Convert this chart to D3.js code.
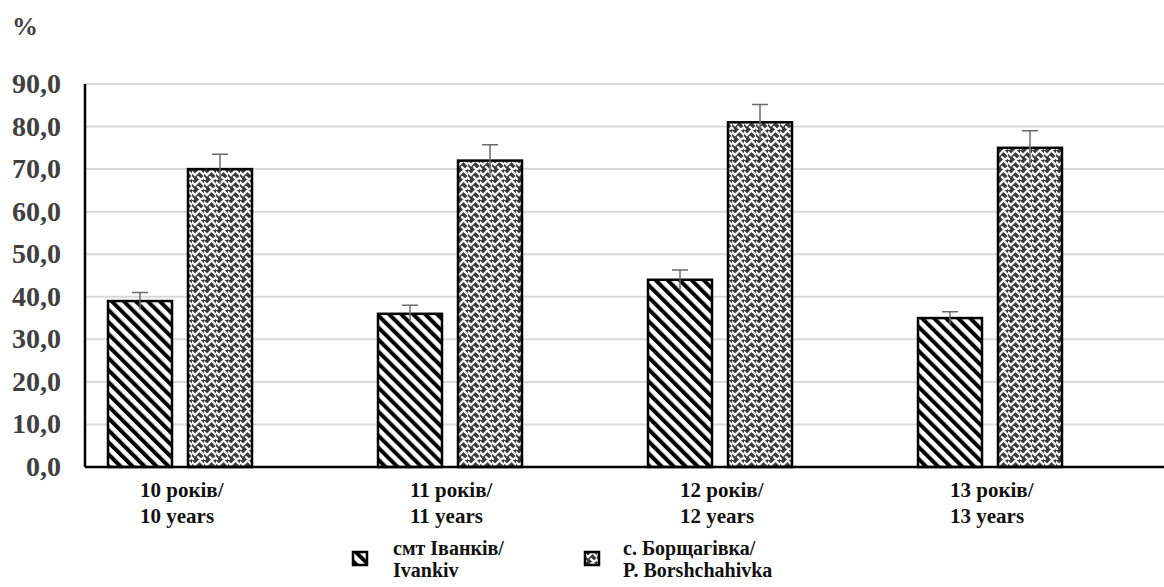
<!DOCTYPE html>
<html>
<head>
<meta charset="utf-8">
<style>
  body, html { margin: 0; padding: 0; background: #fff; }
</style>
</head>
<body>
<svg id="svg" width="1164" height="587"></svg>
<script src="https://d3js.org/d3.v7.min.js"></script>
<script>
// Data
const categories = ['10 років/|10 years', '11 років/|11 years', '12 років/|12 years', '13 років/|13 years']
const seriesNames = ['смт Іванків/|Ivankiv', 'с. Борщагівка/|P. Borshchahivka']
const ivankiv = [39, 36, 44, 35]
const borshchahivka = [70, 72, 81, 75]
const ivankivErr = [2.0, 2.0, 2.3, 1.5]
const borshchahivkaErr = [3.5, 3.7, 4.2, 4.0]
const yTicks = [0, 10, 20, 30, 40, 50, 60, 70, 80, 90]

const FONT = '"Liberation Serif"'
const svg = d3.select('#svg')
const width = 1164

// Patterns
const defs = svg.append('defs')
const hatch = defs.append('pattern')
  .attr('id', 'hatch')
  .attr('patternUnits', 'userSpaceOnUse')
  .attr('width', 8.5).attr('height', 8.5)
  .attr('patternTransform', 'rotate(-45)')
hatch.append('rect').attr('width', 8.5).attr('height', 8.5).attr('fill', '#fff')
hatch.append('rect').attr('width', 4).attr('height', 8.5).attr('fill', '#000')

const weave = defs.append('pattern')
  .attr('id', 'weave')
  .attr('patternUnits', 'userSpaceOnUse')
  .attr('width', 12).attr('height', 10)
weave.append('rect').attr('width', 12).attr('height', 10).attr('fill', '#3a3a3a')
weave.append('path')
  .attr('d', 'M0,2 L3,5 L6,2 M6,7 L9,10 L12,7 M-1,7 L1,9 M9,2 L12,5 M6,2 L9,-1')
  .attr('stroke', '#f4f4f4').attr('stroke-width', 2.4).attr('fill', 'none')
  .attr('stroke-linecap', 'round')

const x = d3.scaleBand()
  .domain(categories)
  .range([45, 1125])
const y = d3.scaleLinear()
  .domain([0, 90])
  .range([467, 84])
const axisX = 85

// Gridlines
svg.append('g')
  .selectAll('line')
  .data(yTicks.slice(1))
  .join('line')
  .attr('x1', axisX).attr('x2', width)
  .attr('y1', d => y(d)).attr('y2', d => y(d))
  .attr('stroke', '#d9d9d9').attr('stroke-width', 2)

// Y axis labels
svg.append('g')
  .selectAll('text')
  .data(yTicks)
  .join('text')
  .attr('x', 61).attr('y', d => y(d) + 9)
  .attr('text-anchor', 'end')
  .attr('font-size', 28)
  .attr('font-weight', 'bold')
  .style('font-family', FONT)
  .attr('fill', '#404040')
  .text(d => d.toFixed(1).replace('.', ','))

svg.append('text')
  .attr('x', 12).attr('y', 35)
  .attr('font-size', 26).attr('font-weight', 'bold')
  .style('font-family', FONT)
  .attr('fill', '#404040')
  .text('%')

// Bars
const barW = 64
const offsets = [-72, 8]
const series = [
  { values: ivankiv, err: ivankivErr, fill: 'url(#hatch)' },
  { values: borshchahivka, err: borshchahivkaErr, fill: 'url(#weave)' }
]
series.forEach((s, si) => {
  const g = svg.append('g')
  const cx = (d, i) => x(categories[i]) + x.bandwidth() / 2 + offsets[si]
  g.selectAll('rect')
    .data(s.values)
    .join('rect')
    .attr('x', cx)
    .attr('y', d => y(d))
    .attr('width', barW)
    .attr('height', d => y(0) - y(d))
    .attr('fill', s.fill)
    .attr('stroke', '#000').attr('stroke-width', 2.5)
  // error bars
  g.selectAll('.err')
    .data(s.values)
    .join('path')
    .attr('class', 'err')
    .attr('d', (d, i) => {
      const mx = cx(d, i) + barW / 2
      const top = y(d + s.err[i])
      const bot = y(d - s.err[i])
      return `M${mx},${bot}L${mx},${top}M${mx - 8},${top}L${mx + 8},${top}`
    })
    .attr('stroke', '#6b6b6b').attr('stroke-width', 1.5).attr('fill', 'none')
})

// Axis lines
svg.append('line')
  .attr('x1', axisX).attr('x2', axisX)
  .attr('y1', y(90)).attr('y2', y(0))
  .attr('stroke', '#000').attr('stroke-width', 2.5)
svg.append('line')
  .attr('x1', axisX).attr('x2', width)
  .attr('y1', y(0)).attr('y2', y(0))
  .attr('stroke', '#000').attr('stroke-width', 2.5)

// Category labels
const catG = svg.append('g')
  .selectAll('text')
  .data(categories)
  .join('text')
  .attr('font-size', 21)
  .attr('font-weight', 'bold')
  .style('font-family', FONT)
  .attr('fill', '#111')
catG.selectAll('tspan')
  .data(d => d.split('|').map(t => ({ t, c: d })))
  .join('tspan')
  .attr('x', d => x(d.c) + x.bandwidth() / 2 - 40)
  .attr('y', (d, i) => 497 + i * 26)
  .text(d => d.t)

// Legend
const legendX = [353, 585]
const legendTextDx = [40, 38]
const legendTextY = [3, 3]
const legendFill = ['url(#hatch)', 'url(#weave)']
const lg = svg.append('g')
  .selectAll('g')
  .data(seriesNames)
  .join('g')
  .attr('transform', (d, i) => `translate(${legendX[i]},552)`)
lg.append('rect')
  .attr('width', 14).attr('height', 13)
  .attr('fill', (d, i) => legendFill[i])
  .attr('stroke', '#000').attr('stroke-width', 2.5)
const lt = lg.append('text')
  .attr('font-size', 20)
  .attr('font-weight', 'bold')
  .style('font-family', FONT)
  .attr('fill', '#111')
lt.selectAll('tspan')
  .data((d, i) => d.split('|').map(t => ({ t, i })))
  .join('tspan')
  .attr('x', d => legendTextDx[d.i])
  .attr('y', (d, j) => legendTextY[d.i] + j * 22)
  .text(d => d.t)
</script>
</body>
</html>
